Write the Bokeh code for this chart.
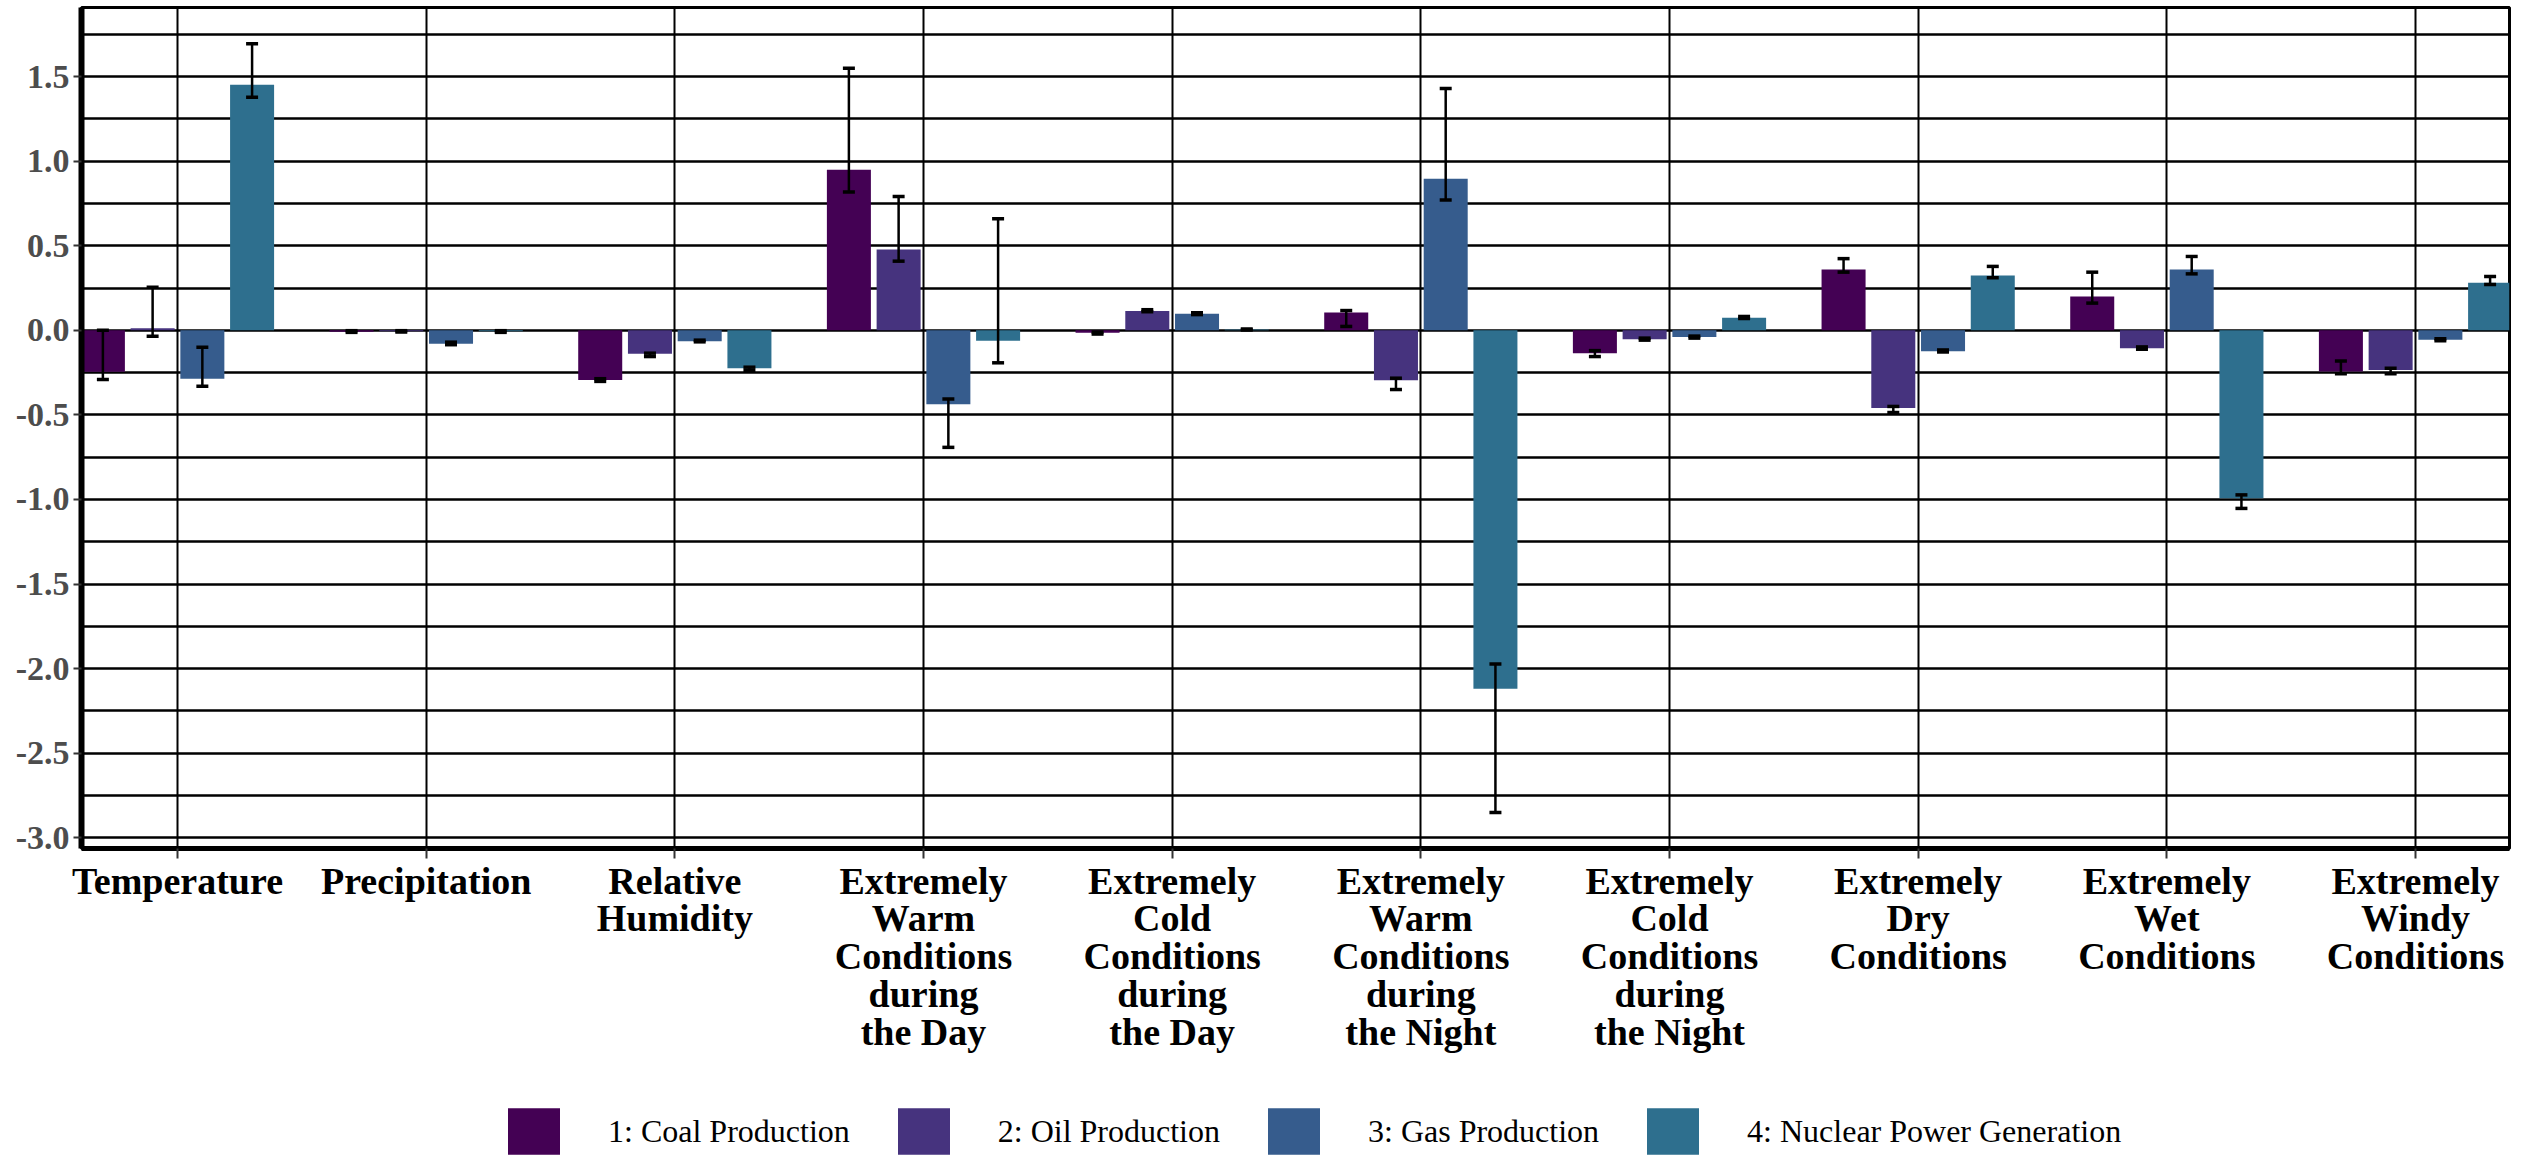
from bokeh.plotting import figure
from bokeh.layouts import column
from bokeh.models import (ColumnDataSource, FixedTicker, Whisker, TeeHead, Legend,
                          LegendItem, PrintfTickFormatter, Range1d)
from bokeh.embed import file_html
from bokeh.resources import INLINE

# ---------------- data ----------------
categories = [
    "Temperature",
    "Precipitation",
    "Relative\nHumidity",
    "Extremely\nWarm\nConditions\nduring\nthe Day",
    "Extremely\nCold\nConditions\nduring\nthe Day",
    "Extremely\nWarm\nConditions\nduring\nthe Night",
    "Extremely\nCold\nConditions\nduring\nthe Night",
    "Extremely\nDry\nConditions",
    "Extremely\nWet\nConditions",
    "Extremely\nWindy\nConditions",
]
series_names = ["1: Coal Production", "2: Oil Production",
                "3: Gas Production", "4: Nuclear Power Generation"]
colors = ["#440154", "#46337E", "#365C8D", "#2E6F8E"]

coal = [-0.245, -0.008, -0.293, 0.950, -0.015, 0.106, -0.135, 0.360, 0.200, -0.244]
coal_lo = [-0.290, -0.012, -0.302, 0.818, -0.022, 0.023, -0.155, 0.344, 0.161, -0.257]
coal_hi = [0.000, -0.002, -0.286, 1.550, -0.010, 0.117, -0.120, 0.424, 0.344, -0.182]

oil = [0.013, -0.006, -0.139, 0.478, 0.115, -0.295, -0.052, -0.459, -0.106, -0.234]
oil_lo = [-0.035, -0.010, -0.155, 0.409, 0.110, -0.350, -0.058, -0.486, -0.112, -0.257]
oil_hi = [0.255, -0.002, -0.135, 0.792, 0.122, -0.283, -0.046, -0.450, -0.098, -0.224]

gas = [-0.287, -0.080, -0.064, -0.437, 0.098, 0.897, -0.040, -0.123, 0.360, -0.056]
gas_lo = [-0.330, -0.085, -0.068, -0.692, 0.093, 0.770, -0.046, -0.128, 0.334, -0.062]
gas_hi = [-0.100, -0.070, -0.058, -0.406, 0.104, 1.430, -0.034, -0.116, 0.437, -0.050]

nuclear = [1.452, -0.006, -0.224, -0.062, 0.005, -2.120, 0.074, 0.324, -0.993, 0.281]
nuclear_lo = [1.378, -0.012, -0.238, -0.192, 0.002, -2.851, 0.070, 0.311, -1.053, 0.271]
nuclear_hi = [1.695, -0.002, -0.218, 0.660, 0.008, -1.973, 0.082, 0.378, -0.973, 0.318]

y_ticks = [-3.0, -2.5, -2.0, -1.5, -1.0, -0.5, 0.0, 0.5, 1.0, 1.5]
y_grid_ticks = [-3.0 + 0.25 * k for k in range(20)]

series = [(coal, coal_lo, coal_hi), (oil, oil_lo, oil_hi),
          (gas, gas_lo, gas_hi), (nuclear, nuclear_lo, nuclear_hi)]

# ---------------- main figure ----------------
SERIF = "Liberation Serif"
p = figure(width=2526, height=1060, output_backend="svg", toolbar_location=None,
           x_range=Range1d(-0.386, 9.378), y_range=Range1d(-3.064, 1.909),
           min_border_left=81, min_border_right=17, min_border_top=7,
           min_border_bottom=212)
p.background_fill_color = "white"
p.border_fill_color = "white"
p.outline_line_color = "black"
p.outline_line_width = 3

offsets = [-0.3, -0.1, 0.1, 0.3]
bar_w = 0.177
idx = list(range(len(categories)))
for (vals, lo, hi), off, col in zip(series, offsets, colors):
    src = ColumnDataSource(dict(x=[i + off for i in idx], top=vals, lo=lo, hi=hi))
    p.vbar(x="x", top="top", bottom=0, width=bar_w, source=src,
           fill_color=col, line_color=None)
    w = Whisker(source=src, base="x", lower="lo", upper="hi",
                line_color="black", line_width=2.5, level="annotation",
                upper_head=TeeHead(size=12, line_width=3.5, line_color="black"),
                lower_head=TeeHead(size=12, line_width=3.5, line_color="black"))
    p.add_layout(w)

# grids
p.xgrid.ticker = FixedTicker(ticks=idx)
p.xgrid.grid_line_color = "black"
p.xgrid.grid_line_width = 2
p.ygrid.ticker = FixedTicker(ticks=y_grid_ticks)
p.ygrid.grid_line_color = "black"
p.ygrid.grid_line_width = 2.5

# y axis
ya = p.yaxis[0]
ya.ticker = FixedTicker(ticks=y_ticks)
ya.formatter = PrintfTickFormatter(format="%.1f")
ya.axis_line_color = "black"
ya.axis_line_width = 6
ya.major_tick_out = 8
ya.major_tick_in = 0
ya.minor_tick_out = 0
ya.minor_tick_in = 0
ya.major_tick_line_color = "#333333"
ya.major_tick_line_width = 2
ya.major_label_standoff = 4
ya.major_label_text_font = SERIF
ya.major_label_text_font_style = "bold"
ya.major_label_text_font_size = "34px"
ya.major_label_text_color = "#4D4D4D"

# x axis
xa = p.xaxis[0]
xa.ticker = FixedTicker(ticks=idx)
xa.major_label_overrides = {i: c for i, c in enumerate(categories)}
xa.axis_line_color = "black"
xa.axis_line_width = 5
xa.major_tick_out = 10
xa.major_tick_in = 0
xa.minor_tick_out = 0
xa.minor_tick_in = 0
xa.major_tick_line_color = "#333333"
xa.major_tick_line_width = 2
xa.major_label_standoff = 1
xa.major_label_text_font = SERIF
xa.major_label_text_font_style = "bold"
xa.major_label_text_font_size = "38px"
xa.major_label_text_color = "black"
xa.major_label_text_line_height = 0.9

# ---------------- legend strip ----------------
lg = figure(width=2526, height=101, output_backend="svg", toolbar_location=None,
            x_range=Range1d(0, 1), y_range=Range1d(0, 1),
            min_border_left=0, min_border_right=0, min_border_top=0,
            min_border_bottom=0, x_axis_location=None, y_axis_location=None)
lg.outline_line_color = None
lg.xgrid.visible = False
lg.ygrid.visible = False
lg.background_fill_color = "white"
lg.border_fill_color = "white"
key_renderers = []
for col in colors:
    # zero-height placeholder bar: only its legend key is visible
    ksrc = ColumnDataSource(dict(x=[0.0], top=[0.0]))
    key_renderers.append(lg.vbar(x="x", top="top", bottom=0, width=0.001, source=ksrc,
                                 fill_color=col, line_color=None))
legend = Legend(items=[LegendItem(label=n, renderers=[r]) for n, r in zip(series_names, key_renderers)],
                orientation="horizontal", location=(420, 1),
                glyph_width=65, glyph_height=58, label_standoff=42, spacing=41,
                padding=0, margin=0, border_line_color=None,
                background_fill_alpha=0,
                label_text_font=SERIF, label_text_font_size="32px",
                label_text_color="black")
lg.add_layout(legend, "center")

layout = column(p, lg, spacing=0)
open("out.html", "w").write(file_html(layout, INLINE))
